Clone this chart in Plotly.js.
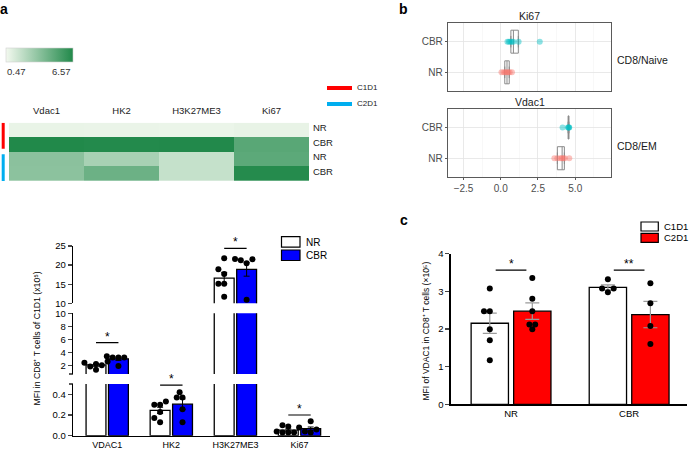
<!DOCTYPE html>
<html><head><meta charset="utf-8">
<script src="https://cdn.plot.ly/plotly-3.0.1.min.js"></script>
<style>html,body{margin:0;padding:0;background:#fff;}#chart{width:689px;height:455px;}</style>
</head><body><div id="chart"></div>
<script>
// ================= DATA =================
// Panel a – heatmap
const hmMarkers = ['Vdac1', 'HK2', 'H3K27ME3', 'Ki67'];
const hmRows = ['NR', 'CBR', 'NR', 'CBR'];
const hmRowGroups = ['C1D1', 'C1D1', 'C2D1', 'C2D1'];
const hmC1D1NR = [0.75, 0.72, 0.70, 0.80];
const hmC1D1CBR = [6.57, 6.50, 6.55, 4.95];
const hmC2D1NR = [3.50, 2.65, 1.80, 4.85];
const hmC2D1CBR = [3.45, 4.40, 1.80, 6.45];
const hmScale = [0.47, 6.57];
const hmGroupNames = ['C1D1', 'C2D1'];

// Panel a – bar chart (MFI, x10^5)
const barCategories = ['VDAC1', 'HK2', 'H3K27ME3', 'Ki67'];
const barGroups = ['NR', 'CBR'];
const nrMean = [2.05, 0.245, 16.6, 0.053];
const cbrMean = [3.0, 0.305, 18.9, 0.068];
const nrSem = [0.2, 0.03, 1.5, 0.012];
const cbrSem = [0.25, 0.05, 1.8, 0.016];
const nrPoints = [[2.0, 2.2, 2.6, 1.3, 1.8, 2.4], [0.30, 0.33, 0.30, 0.23, 0.17, 0.13], [21.8, 18.9, 17.7, 15.1, 15.1, 11.7], [0.09, 0.10, 0.03, 0.03, 0.03, 0.04]];
const cbrPoints = [[3.4, 3.2, 3.2, 3.2, 1.9], [0.37, 0.42, 0.37, 0.255, 0.13], [21.6, 21.5, 21.3, 20.5, 10.9], [0.14, 0.08, 0.06, 0.04, 0.03]];
const sigA = ['*', '*', '*', '*'];
const sigALevel = [5.5, 0.49, 24.4, 0.2];
const segTicks = [[0, 0.2, 0.4], [2, 4, 6, 8, 10], [10, 15, 20, 25]];
const segTickText = [['0.0', '0.2', '0.4'], ['2', '4', '6', '8', '10'], ['10', '15', '20', '25']];

// Panel b
const bFacets = ['Ki67', 'Vdac1'];
const bStrips = ['CD8/Naive', 'CD8/EM'];
const bGroups = ['NR', 'CBR'];
const bKi67NR = [0.05, 0.2, 0.3, 0.4, 0.5, 0.6, 0.75];
const bKi67CBR = [0.45, 0.55, 0.65, 0.75, 0.85, 1.2, 2.62];
const bVdac1NR = [3.6, 3.8, 4.0, 4.1, 4.2, 4.3, 4.6];
const bVdac1CBR = [4.15, 4.5, 4.55, 4.58, 4.6];
// box stats: q1, median, q3
const bKi67NRBox = [0.27, 0.42, 0.57];
const bKi67CBRBox = [0.68, 0.85, 1.18];
const bVdac1NRBox = [3.8, 4.12, 4.27];
const bVdac1CBRBox = [4.52, 4.55, 4.58];

// Panel c
const cCategories = ['NR', 'CBR'];
const cSeries = ['C1D1', 'C2D1'];
const cC1D1Mean = [2.15, 3.1];
const cC2D1Mean = [2.47, 2.38];
const cC1D1Sem = [0.27, 0.07];
const cC2D1Sem = [0.22, 0.35];
const cC1D1Points = [[3.07, 2.47, 2.47, 1.99, 1.70, 1.17], [3.32, 2.97, 3.07, 3.07]];
const cC2D1Points = [[3.35, 2.80, 2.47, 2.12, 2.12, 1.99], [3.21, 2.68, 2.08, 1.60]];
const sigC = ['*', '**'];
const sigCLevel = [3.56, 3.56];

// ================= LAYOUT HELPERS =================
const W = 689, H = 455;
const X = px => px / W;
const Y = py => 1 - py / H;
const FONT = 'Liberation Sans, Arial, Helvetica, sans-serif';
const traces = [], shapes = [], annotations = [];

function swarm(vals, toPx, d) {
  const order = vals.map((v, i) => i).sort((a, b) => toPx(vals[b]) - toPx(vals[a]));
  const placed = [], out = new Array(vals.length).fill(0);
  const cands = [0];
  for (let k = 1; k <= 10; k++) cands.push(-k * d / 2, k * d / 2);
  order.forEach(i => {
    const py = toPx(vals[i]);
    for (const c of cands) {
      if (placed.every(p => Math.hypot(p.x - c, p.y - py) >= d * 0.97)) { out[i] = c; placed.push({x: c, y: py}); break; }
    }
  });
  return out;
}
function txt(text, x, y, opt) {
  annotations.push(Object.assign({text, x, y, xref: 'paper', yref: 'paper', showarrow: false, xanchor: 'center', yanchor: 'middle', font: {family: FONT, size: 9.5, color: '#000'}}, opt || {}));
}

// ================= PANEL a : HEATMAP =================
const zHM = [hmC1D1NR, hmC1D1CBR, hmC2D1NR, hmC2D1CBR];
traces.push({
  type: 'heatmap', z: zHM, x: hmMarkers.map((m, i) => i), y: hmRows.map((r, i) => i),
  xaxis: 'x4', yaxis: 'y4', zmin: hmScale[0], zmax: hmScale[1],
  colorscale: [[0, '#f3f9ef'], [1, '#21894a']], hoverinfo: 'skip',
  showscale: true,
  colorbar: {orientation: 'h', x: X(39.3), xanchor: 'center', y: Y(48.3), yanchor: 'top',
    len: 67 / W, lenmode: 'fraction', thickness: 14, thicknessmode: 'pixels', xpad: 0, ypad: 0,
    outlinewidth: 0.6, outlinecolor: '#d0d0d0', ticks: '', showticklabels: false}
});
txt(String(hmScale[0]), X(5), Y(71), {xanchor: 'left', font: {family: FONT, size: 9.5, color: '#333'}});
txt(String(hmScale[1]), X(73), Y(71), {xanchor: 'right', font: {family: FONT, size: 9.5, color: '#333'}});

const groupColors = ['#ff0000', '#00aeef'];
hmGroupNames.forEach((g, gi) => {
  const rows = hmRowGroups.map((r, i) => r === g ? i : -1).filter(i => i >= 0);
  const first = Math.min(...rows), last = Math.max(...rows);
  const y0 = first - 0.5 + (first > 0 ? 0.16 : 0);
  const y1 = last + 0.5 - (last < hmRows.length - 1 ? 0.22 : 0);
  shapes.push({type: 'rect', xref: 'paper', yref: 'y4', x0: X(1.7), x1: X(4.7), y0, y1, fillcolor: groupColors[gi], line: {width: 0}});
  const ly = 88 + gi * 16;
  shapes.push({type: 'line', xref: 'paper', yref: 'paper', x0: X(327), x1: X(352), y0: Y(ly), y1: Y(ly), line: {color: groupColors[gi], width: 4}});
  txt(g, X(355), Y(ly), {xanchor: 'left', font: {family: FONT, size: 8, color: '#222'}});
});

// ================= PANEL a : BROKEN BAR CHART =================
const segs = [
  {id: 'y', key: 'yaxis', range: [0, 0.5], top: 384, bottom: 435.7},
  {id: 'y2', key: 'yaxis2', range: [0.66, 10], top: 313.3, bottom: 374},
  {id: 'y3', key: 'yaxis3', range: [10, 25], top: 246, bottom: 303.3}
];
const xaA = {left: 73, right: 330, range: [-0.534, 3.476]};
const pxPerXA = (xaA.right - xaA.left) / (xaA.range[1] - xaA.range[0]);
function segOf(v) { return v >= 10 ? segs[2] : (v >= 0.6 ? segs[1] : segs[0]); }
function toPxA(v) { const s = segOf(v); return s.bottom - (v - s.range[0]) / (s.range[1] - s.range[0]) * (s.bottom - s.top); }
const wA = 0.31, shA = 0.175;
const grpA = [
  {mean: nrMean, sem: nrSem, pts: nrPoints, sh: -shA, color: '#ffffff'},
  {mean: cbrMean, sem: cbrSem, pts: cbrPoints, sh: shA, color: '#0000ff'}
];
segs.forEach(s => {
  grpA.forEach(g => {
    traces.push({type: 'bar', x: barCategories.map((c, i) => i), y: g.mean, width: wA, offset: g.sh - wA / 2,
      xaxis: 'x', yaxis: s.id, marker: {color: g.color, line: {color: '#000', width: 1.3}},
      error_y: {type: 'data', array: g.sem, visible: true, color: '#000', thickness: 1, width: 3}, hoverinfo: 'skip'});
  });
});
segs.forEach(s => {
  const xs = [], ys = [];
  grpA.forEach(g => {
    barCategories.forEach((c, i) => {
      const offs = swarm(g.pts[i], toPxA, 5.8);
      g.pts[i].forEach((v, k) => { if (segOf(v) === s) { xs.push(i + g.sh + offs[k] / pxPerXA); ys.push(v); } });
    });
  });
  traces.push({type: 'scatter', mode: 'markers', x: xs, y: ys, xaxis: 'x', yaxis: s.id, marker: {size: 6, color: '#000'}, hoverinfo: 'skip', cliponaxis: true});
});
[segs[0].top, segs[1].bottom].forEach(py => {
  shapes.push({type: 'line', xref: 'paper', yref: 'paper', x0: X(xaA.left - 4), x1: X(xaA.left), y0: Y(py), y1: Y(py), line: {color: '#000', width: 1.3}});
});
sigA.forEach((lab, i) => {
  const s = segOf(sigALevel[i]);
  shapes.push({type: 'line', xref: 'x', yref: s.id, x0: i - shA, x1: i + shA, y0: sigALevel[i], y1: sigALevel[i], line: {color: '#000', width: 1.2}});
  annotations.push({text: lab, x: i, y: sigALevel[i], xref: 'x', yref: s.id, showarrow: false, yanchor: 'bottom', yshift: -3, font: {family: FONT, size: 12, color: '#000'}});
});
barGroups.forEach((g, gi) => {
  const top = 236.7 + gi * 13.3;
  shapes.push({type: 'rect', xref: 'paper', yref: 'paper', x0: X(281.5), x1: X(300), y0: Y(top + 10.5), y1: Y(top), fillcolor: grpA[gi].color, line: {color: '#000', width: 1.2}});
  txt(g, X(304), Y(top + 5.3), {xanchor: 'left', font: {family: FONT, size: 10, color: '#000'}});
});
txt('MFI in CD8\u207A T cells of C1D1 (x10\u2075)', X(36.5), Y(339), {textangle: -90, font: {family: FONT, size: 8.7, color: '#000'}});

// ================= PANEL b =================
const bPanels = [
  {facet: bFacets[0], strip: bStrips[0], data: [bKi67NR, bKi67CBR], box: [bKi67NRBox, bKi67CBRBox], n: 5, top: 23.3, bottom: 90.7, labels: false},
  {facet: bFacets[1], strip: bStrips[1], data: [bVdac1NR, bVdac1CBR], box: [bVdac1NRBox, bVdac1CBRBox], n: 6, top: 109, bottom: 176.7, labels: true}
];
const bColors = ['rgba(248,118,109,0.45)', 'rgba(0,191,196,0.45)'];
const bLeft = 448.3, bRight = 611;
bPanels.forEach(p => {
  const xa = 'x' + p.n, ya = 'y' + p.n;
  bGroups.forEach((g, gi) => {
    traces.push({type: 'scatter', mode: 'markers', x: p.data[gi], y: p.data[gi].map(() => gi + 1), xaxis: xa, yaxis: ya,
      marker: {size: 6, color: bColors[gi]}, hoverinfo: 'skip'});
    const b = p.box[gi];
    traces.push({type: 'box', orientation: 'h', y: [gi + 1], q1: [b[0]], median: [b[1]], q3: [b[2]], lowerfence: [b[0]], upperfence: [b[2]],
      width: 0.75, xaxis: xa, yaxis: ya, line: {color: '#8a8a8a', width: 1}, fillcolor: 'rgba(0,0,0,0)', hoverinfo: 'skip', boxpoints: false});
  });
  txt(p.facet, X((bLeft + bRight) / 2), Y(p.top - 7), {font: {family: FONT, size: 10.5, color: '#1a1a1a'}});
  txt(p.strip, X(615), Y((p.top + p.bottom) / 2 + 3), {xanchor: 'left', font: {family: FONT, size: 10.5, color: '#1a1a1a'}});
});

// ================= PANEL c =================
const xaC = {left: 450.7, right: 687, range: [-0.511, 1.49]};
const yaC = {top: 253.5, bottom: 404.3, range: [0, 4]};
const pxPerXC = (xaC.right - xaC.left) / (xaC.range[1] - xaC.range[0]);
const toPxC = v => yaC.bottom - (v - yaC.range[0]) / (yaC.range[1] - yaC.range[0]) * (yaC.bottom - yaC.top);
const wC = 0.316, shC = 0.18;
const grpC = [
  {mean: cC1D1Mean, sem: cC1D1Sem, pts: cC1D1Points, sh: -shC, color: '#ffffff'},
  {mean: cC2D1Mean, sem: cC2D1Sem, pts: cC2D1Points, sh: shC, color: '#ff0000'}
];
grpC.forEach(g => {
  traces.push({type: 'bar', x: cCategories.map((c, i) => i), y: g.mean, width: wC, offset: g.sh - wC / 2,
    xaxis: 'x7', yaxis: 'y7', marker: {color: g.color, line: {color: '#000', width: 1.3}},
    error_y: {type: 'data', array: g.sem, visible: true, color: '#9a9a9a', thickness: 1.2, width: 7}, hoverinfo: 'skip'});
});
{
  const xs = [], ys = [];
  grpC.forEach(g => cCategories.forEach((c, i) => {
    const offs = swarm(g.pts[i], toPxC, 5.8);
    g.pts[i].forEach((v, k) => { xs.push(i + g.sh + offs[k] / pxPerXC); ys.push(v); });
  }));
  traces.push({type: 'scatter', mode: 'markers', x: xs, y: ys, xaxis: 'x7', yaxis: 'y7', marker: {size: 6, color: '#000'}, hoverinfo: 'skip'});
}
sigC.forEach((lab, i) => {
  shapes.push({type: 'line', xref: 'x7', yref: 'y7', x0: i - 0.13, x1: i + 0.13, y0: sigCLevel[i], y1: sigCLevel[i], line: {color: '#000', width: 1.2}});
  annotations.push({text: lab, x: i, y: sigCLevel[i], xref: 'x7', yref: 'y7', showarrow: false, yanchor: 'bottom', yshift: -3, font: {family: FONT, size: 12, color: '#000'}});
});
cSeries.forEach((s, si) => {
  const top = 222 + si * 11.3;
  shapes.push({type: 'rect', xref: 'paper', yref: 'paper', x0: X(641), x1: X(658.3), y0: Y(top + 9), y1: Y(top), fillcolor: grpC[si].color, line: {color: '#000', width: 1.2}});
  txt(s, X(662), Y(top + 4.5), {xanchor: 'left', font: {family: FONT, size: 9.5, color: '#000'}});
});
txt('MFI of VDAC1 in CD8\u207A T cells (\u00D710\u2075)', X(425), Y(331.5), {textangle: -90, font: {family: FONT, size: 8.5, color: '#000'}});

txt('a', X(3.5), Y(9), {font: {family: FONT, size: 14, color: '#000', weight: 'bold'}});
txt('b', X(404), Y(8.5), {font: {family: FONT, size: 14, color: '#000', weight: 'bold'}});
txt('c', X(404), Y(220), {font: {family: FONT, size: 14, color: '#000', weight: 'bold'}});

// ================= LAYOUT =================
const layout = {
  width: W, height: H, margin: {l: 0, r: 0, t: 0, b: 0},
  paper_bgcolor: '#fff', plot_bgcolor: 'rgba(0,0,0,0)', showlegend: false,
  font: {family: FONT, size: 9.5, color: '#000'},
  shapes, annotations,
  xaxis: {domain: [X(xaA.left), X(xaA.right)], range: xaA.range, anchor: 'y', showline: true, linecolor: '#000', linewidth: 1.3,
    tickvals: barCategories.map((c, i) => i), ticktext: barCategories, ticks: '', showgrid: false, zeroline: false, tickfont: {size: 9}},
  xaxis4: {domain: [X(9), X(309)], range: [-0.5, 3.5], anchor: 'y4', side: 'top', tickvals: hmMarkers.map((m, i) => i), ticktext: hmMarkers,
    ticks: 'outside', ticklen: 4, tickcolor: 'rgba(0,0,0,0)', showgrid: false, zeroline: false, showline: false, tickfont: {size: 9.5, color: '#222'}},
  yaxis4: {domain: [Y(181), Y(122.7)], range: [3.5, -0.5], anchor: 'x4', side: 'right', tickvals: hmRows.map((r, i) => i), ticktext: hmRows,
    ticks: 'outside', ticklen: 1, tickcolor: 'rgba(0,0,0,0)', ticklabelshift: 2, showgrid: false, zeroline: false, showline: false, tickfont: {size: 9.5, color: '#222'}},
  xaxis7: {domain: [X(xaC.left), X(xaC.right)], range: xaC.range, anchor: 'y7', showline: true, linecolor: '#000', linewidth: 1.3,
    tickvals: cCategories.map((c, i) => i), ticktext: cCategories, ticks: '', showgrid: false, zeroline: false, tickfont: {size: 9.5}},
  yaxis7: {domain: [Y(yaC.bottom), Y(yaC.top)], range: yaC.range, anchor: 'x7', showline: true, linecolor: '#000', linewidth: 1.3,
    ticks: 'outside', ticklen: 4, tickwidth: 1.3, dtick: 1, tick0: 0, showgrid: false, zeroline: false, tickfont: {size: 9.5}}
};
segs.forEach((s, si) => {
  layout[s.key] = {domain: [Y(s.bottom), Y(s.top)], range: s.range, anchor: 'x', showline: true, linecolor: '#000', linewidth: 1.3,
    ticks: 'outside', ticklen: 4, tickwidth: 1.3, tickvals: segTicks[si], ticktext: segTickText[si], showgrid: false, zeroline: false, tickfont: {size: 9.5}};
});
bPanels.forEach(p => {
  layout['xaxis' + p.n] = {domain: [X(bLeft), X(bRight)], range: [-3.52, 7.40], anchor: 'y' + p.n, showline: true, mirror: true,
    linecolor: '#5a5a5a', linewidth: 1, showgrid: true, gridcolor: '#e4e4e4', gridwidth: 0.8,
    minor: {tick0: 0, dtick: 1.25, showgrid: true, gridcolor: '#f1f1f1', gridwidth: 0.5},
    tick0: 0, dtick: 2.5, tickformat: '.1f', zeroline: false, ticks: p.labels ? 'outside' : '', ticklen: 2.5, tickcolor: '#5a5a5a',
    showticklabels: p.labels, tickfont: {size: 10, color: '#4d4d4d'}};
  layout['yaxis' + p.n] = {domain: [Y(p.bottom), Y(p.top)], range: [0.4, 2.6], anchor: 'x' + p.n, tickvals: bGroups.map((g, i) => i + 1), ticktext: bGroups,
    showline: true, mirror: true, linecolor: '#5a5a5a', linewidth: 1, showgrid: true, gridcolor: '#e4e4e4', gridwidth: 0.8, zeroline: false,
    ticks: 'outside', ticklen: 2.5, tickcolor: '#5a5a5a', tickfont: {size: 10, color: '#4d4d4d'}};
});

Plotly.newPlot('chart', traces, layout, {displayModeBar: false, staticPlot: true});
</script>
</body></html>
